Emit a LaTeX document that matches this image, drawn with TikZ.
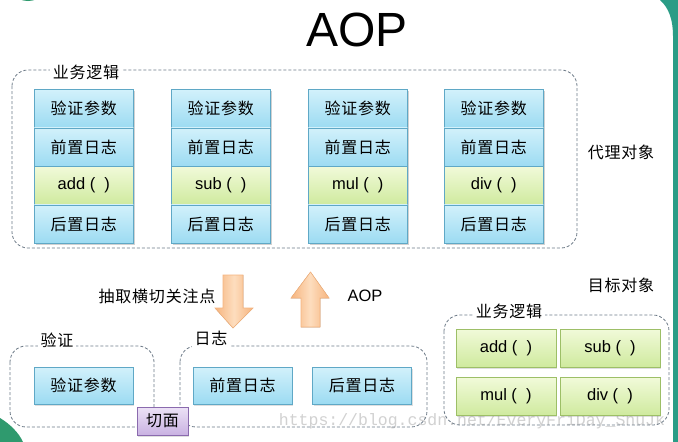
\documentclass[tikz,border=0pt]{standalone}
\usepackage{fontspec}
\setmainfont{Liberation Sans}
\newfontfamily\cjk[LetterSpace=5]{Noto Sans CJK SC}
\newfontfamily\wmfont{Liberation Mono}
\usetikzlibrary{shadows}
\definecolor{bluetop}{HTML}{D2F1FB}
\definecolor{bluebot}{HTML}{9CDBF2}
\definecolor{blueline}{HTML}{5FA8C6}
\definecolor{greentop}{HTML}{F1FAD9}
\definecolor{greenbot}{HTML}{CFEA9E}
\definecolor{greenline}{HTML}{9DBF67}
\definecolor{purptop}{HTML}{ECE2F6}
\definecolor{purpbot}{HTML}{C9B2E2}
\definecolor{purpline}{HTML}{8A6AAE}
\definecolor{dashgray}{HTML}{6E7B88}
\definecolor{orangeedge}{HTML}{F6B47E}
\definecolor{orangemid}{HTML}{FDDDBE}
\definecolor{tealdeco}{HTML}{2A9C86}
\definecolor{greendeco}{HTML}{2F9A6E}
\begin{document}
\begin{tikzpicture}[x=1pt,y=-1pt,
  cjkfont/.style={font=\cjk\fontsize{16}{18}\selectfont},
  cell/.style={draw=blueline, line width=0.6pt, top color=bluetop, bottom color=bluebot,
    minimum width=99pt, minimum height=38.5pt, inner sep=0pt, anchor=north west, cjkfont},
  gcell/.style={cell, top color=greentop, bottom color=greenbot,
    font=\fontsize{16.5}{18}\selectfont},
  bluebox/.style={draw=blueline, line width=0.6pt, top color=bluetop, bottom color=bluebot,
    minimum width=99pt, minimum height=37pt, inner sep=0pt, cjkfont,
    drop shadow={opacity=0.25, shadow xshift=1.2pt, shadow yshift=-1.5pt}},
  greenbox/.style={draw=greenline, line width=0.6pt, top color=greentop, bottom color=greenbot,
    minimum width=100pt, minimum height=38pt, inner sep=0pt,
    font=\fontsize{16.5}{18}\selectfont,
    drop shadow={opacity=0.25, shadow xshift=1.2pt, shadow yshift=-1.5pt}},
  purplebox/.style={draw=purpline, line width=0.6pt, top color=purptop, bottom color=purpbot,
    minimum width=51pt, minimum height=28pt, inner sep=0pt, cjkfont,
    drop shadow={opacity=0.25, shadow xshift=1.2pt, shadow yshift=-1.5pt}},
  group/.style={draw=dashgray, line width=0.8pt, dash pattern=on 3pt off 2pt, rounded corners=16pt},
  grouplabel/.style={fill=white, inner sep=3pt, cjkfont},
  plain/.style={inner sep=0pt, cjkfont},
  bigarrow/.style={draw=orangeedge, line width=0.6pt, left color=orangeedge, right color=orangeedge, middle color=orangemid}
]
\useasboundingbox (0,0) rectangle (678,442);
\fill[white] (0,0) rectangle (678,442);

% slide decoration
\fill[tealdeco] (678,0) -- (660,0) .. controls (669,8) and (673,20) .. (673,36) -- (673,442) -- (678,442) -- cycle;
\fill[greendeco] (28,-20) circle (21);
\fill[greendeco] (0,418) .. controls (10,424) and (19,433) .. (23,442) -- (0,442) -- cycle;

% watermark
\node[text=black!18, font=\wmfont\fontsize{16.5}{18}\selectfont, inner sep=0pt] (wm) at (472,421) {https://blog.csdn.net/EveryFriDay\_ShuJk};

% title
\node[font=\fontsize{48}{50}\selectfont, inner sep=0pt] (title) at (357,30) {AOP};

% top group (proxy objects)
\draw[group] (12,70) rectangle (577,248);
\node[grouplabel] (toplabel) at (86,72) {业务逻辑};

% column shadows
\foreach \L in {34,171,308,444}{
  \fill[black, opacity=0.18] (\L+1.5,91) rectangle (\L+100.5,244.5);
}
% columns
\foreach \L/\n/\f in {34/1/{add (\ \ )},171/2/{sub (\ \ )},308/3/{mul (\ \ )},444/4/{div (\ \ )}}{
  \node[cell] (c\n a) at (\L,89) {验证参数};
  \node[cell] (c\n b) at (\L,127.5) {前置日志};
  \node[gcell, draw=blueline] (c\n c) at (\L,166) {\f};
  \node[cell] (c\n d) at (\L,204.5) {后置日志};
}

\node[plain] (proxy) at (621,152) {代理对象};

% arrows
\filldraw[bigarrow] (223,275) -- (243,275) -- (243,308) -- (253,308) -- (233,328) -- (215,308) -- (223,308) -- cycle;
\filldraw[bigarrow] (301,327) -- (320,327) -- (320,298) -- (329,298) -- (310.5,272) -- (291,298) -- (301,298) -- cycle;
\node[plain] (extract) at (157,296) {抽取横切关注点};
\node[font=\fontsize{16.5}{18}\selectfont, inner sep=0pt] (aoplabel) at (365,296) {AOP};

% target objects
\node[plain] (target) at (621,285) {目标对象};
\draw[group] (444,315) rectangle (669,425);
\node[grouplabel] (rlabel) at (509,311) {业务逻辑};
\node[greenbox] (add) at (506,348) {add (\ \ )};
\node[greenbox] (sub) at (610,348) {sub (\ \ )};
\node[greenbox] (mul) at (506,396.5) {mul (\ \ )};
\node[greenbox] (div) at (610,396.5) {div (\ \ )};

% aspects
\draw[group] (10,346) rectangle (154,427);
\node[grouplabel] (vlabel) at (57,340) {验证};
\node[bluebox] (verify) at (83.5,385.5) {验证参数};

\draw[group] (180,346) rectangle (427,427);
\node[grouplabel] (llabel) at (211,338) {日志};
\node[bluebox] (before) at (242.5,385.5) {前置日志};
\node[bluebox] (after) at (362,385.5) {后置日志};

\node[purplebox] (aspect) at (162.5,421) {切面};
\end{tikzpicture}
\end{document}
